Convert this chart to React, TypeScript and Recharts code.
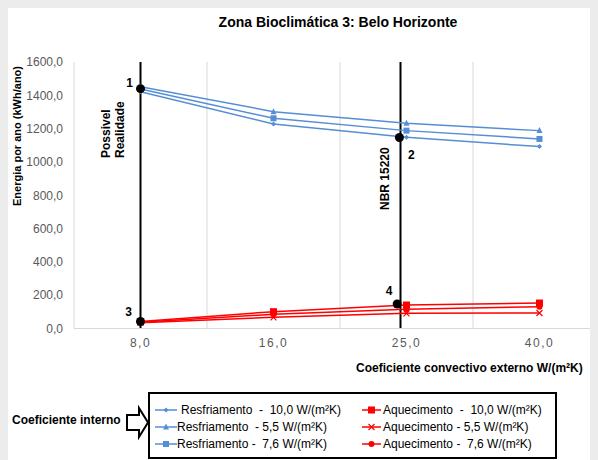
import React from 'react';
import { LineChart, Line, XAxis, YAxis, ReferenceLine, ReferenceDot } from 'recharts';

// Coeficiente convectivo externo W/(m²K)
const categories = ['8,0', '16,0', '25,0', '40,0'];

// Energia por ano (kWh/ano) — Resfriamento
const resfriamento10 = [1422, 1228, 1148, 1092];
const resfriamento55 = [1452, 1302, 1232, 1188];
const resfriamento76 = [1438, 1262, 1188, 1138];

// Energia por ano (kWh/ano) — Aquecimento
const aquecimento10 = [42, 101, 141, 153];
const aquecimento55 = [35, 67, 91, 93];
const aquecimento76 = [38, 85, 115, 131];

const yTicks = [0, 200, 400, 600, 800, 1000, 1200, 1400, 1600];

// Highlighted points (x in category index units)
const markerPoints = [
  { x: 0, y: 1440, label: '1' },
  { x: 1.947, y: 1147, label: '2' },
  { x: 0, y: 42, label: '3' },
  { x: 1.93, y: 147, label: '4' },
];

// Vertical guide lines
const guideLines = [
  { x: 0, text: ['Possivel', 'Realidade'] },
  { x: 1.955, text: ['NBR 15220'] },
];

const BLUE = '#558ED5';
const RED = '#FF0000';
const FONT = 'Arial, "Liberation Sans", sans-serif';

type Shape = 'diamond' | 'triangle' | 'square' | 'cross' | 'circle';

const series: { key: string; values: number[]; color: string; shape: Shape; legend: string }[] = [
  { key: 'r10', values: resfriamento10, color: BLUE, shape: 'diamond', legend: 'Resfriamento  -  10,0 W/(m²K)' },
  { key: 'r55', values: resfriamento55, color: BLUE, shape: 'triangle', legend: 'Resfriamento  - 5,5 W/(m²K)' },
  { key: 'r76', values: resfriamento76, color: BLUE, shape: 'square', legend: 'Resfriamento -  7,6 W/(m²K)' },
  { key: 'a10', values: aquecimento10, color: RED, shape: 'square', legend: 'Aquecimento  -  10,0 W/(m²K)' },
  { key: 'a55', values: aquecimento55, color: RED, shape: 'cross', legend: 'Aquecimento - 5,5 W/(m²K)' },
  { key: 'a76', values: aquecimento76, color: RED, shape: 'circle', legend: 'Aquecimento -  7,6 W/(m²K)' },
];

const data = categories.map((_, i) => {
  const row: Record<string, number> = { x: i };
  series.forEach((s) => {
    row[s.key] = s.values[i];
  });
  return row;
});

function marker(shape: Shape, cx: number, cy: number, color: string, size: number, key?: string) {
  const h = size / 2;
  switch (shape) {
    case 'diamond':
      return <path key={key} d={`M${cx},${cy - h} L${cx + h},${cy} L${cx},${cy + h} L${cx - h},${cy} Z`} fill={color} />;
    case 'triangle':
      return <path key={key} d={`M${cx},${cy - h - 0.5} L${cx + h},${cy + h - 0.5} L${cx - h},${cy + h - 0.5} Z`} fill={color} />;
    case 'square':
      return <rect key={key} x={cx - h} y={cy - h} width={size} height={size} fill={color} />;
    case 'cross':
      return (
        <path
          key={key}
          d={`M${cx - h},${cy - h} L${cx + h},${cy + h} M${cx - h},${cy + h} L${cx + h},${cy - h}`}
          stroke={color}
          strokeWidth={1.2}
          fill="none"
        />
      );
    default:
      return <circle key={key} cx={cx} cy={cy} r={h} fill={color} />;
  }
}

const markerSize: Record<string, number> = { r10: 5, r55: 6, r76: 6, a10: 7, a55: 6, a76: 6 };

const labelOffset: Record<string, [number, number]> = {
  '1': [-11, -6],
  '2': [12, 18],
  '3': [-12, -10],
  '4': [-8, -13],
};

const fmt = (v: number) => v.toFixed(1).replace('.', ',');

export default function App() {
  const W = 590;
  const H = 452;
  return (
    <div style={{ position: 'relative', width: W, height: H, background: '#ffffff', fontFamily: FONT }}>
      <style>{'body{background:#ececec}'}</style>
      <LineChart width={W} height={H} data={data} margin={{ top: 54, right: 0, bottom: 101.5, left: 0 }}>
        <XAxis
          dataKey="x"
          type="number"
          domain={[-0.5, 3.44]}
          allowDataOverflow
          ticks={[0, 1, 2, 3]}
          tickFormatter={(i: number) => categories[i] ?? ''}
          height={30}
          tickLine={false}
          tickMargin={4}
          axisLine={{ stroke: '#d9d9d9' }}
          tick={{ fill: '#595959', fontSize: 12, fontFamily: FONT, letterSpacing: 1.5 }}
        />
        <YAxis
          type="number"
          domain={[0, 1600]}
          ticks={yTicks}
          width={66}
          tickLine={false}
          tickMargin={5}
          tickFormatter={fmt}
          axisLine={{ stroke: '#d9d9d9' }}
          tick={{ fill: '#595959', fontSize: 12, fontFamily: FONT }}
        />
        {[0.5, 1.5, 2.5].map((g) => (
          <ReferenceLine key={`g${g}`} x={g} stroke="#d9d9d9" strokeWidth={1} />
        ))}
        {guideLines.map((gl) => (
          <ReferenceLine
            key={`l${gl.x}`}
            x={gl.x}
            stroke="#000000"
            strokeWidth={2}
            label={(p: any) => {
              const vb = p.viewBox || {};
              const lx = vb.x;
              const n = gl.text.length;
              const baseY = n === 2 ? 150 : 202;
              return (
                <g>
                  {gl.text.map((t, k) => {
                    const tx = lx + (n === 2 ? -34 + k * 13.5 : -16);
                    return (
                      <text
                        key={t}
                        x={tx}
                        y={baseY}
                        transform={`rotate(-90, ${tx}, ${baseY})`}
                        fontSize={12}
                        fontWeight="bold"
                        fontFamily={FONT}
                        fill="#000"
                        dominantBaseline="central"
                      >
                        {t}
                      </text>
                    );
                  })}
                </g>
              );
            }}
          />
        ))}
        {series.map((s) => (
          <Line
            key={s.key}
            dataKey={s.key}
            stroke={s.color}
            strokeWidth={1.5}
            isAnimationActive={false}
            activeDot={false}
            dot={(p: any) => marker(s.shape, p.cx, p.cy, s.color, markerSize[s.key], `${s.key}-${p.index}`)}
          />
        ))}
        {markerPoints.map((m) => (
          <ReferenceDot
            key={m.label}
            x={m.x}
            y={m.y}
            r={4.5}
            fill="#000"
            stroke="none"
            label={(p: any) => {
              const vb = p.viewBox || {};
              const cx = vb.x + (vb.width || 0) / 2;
              const cy = vb.y + (vb.height || 0) / 2;
              const [dx, dy] = labelOffset[m.label];
              return (
                <text
                  x={cx + dx}
                  y={cy + dy}
                  textAnchor="middle"
                  dominantBaseline="central"
                  fontSize={12}
                  fontWeight="bold"
                  fontFamily={FONT}
                  fill="#000"
                >
                  {m.label}
                </text>
              );
            }}
          />
        ))}
      </LineChart>
      <svg
        width={W}
        height={H}
        style={{ position: 'absolute', left: 0, top: 0, pointerEvents: 'none' }}
        fontFamily={FONT}
      >
        <text x={330} y={14} textAnchor="middle" dominantBaseline="central" fontSize={14} fontWeight="bold" fill="#000">
          Zona Bioclimática 3: Belo Horizonte
        </text>
        <text
          x={9}
          y={128}
          transform="rotate(-90, 9, 128)"
          textAnchor="middle"
          dominantBaseline="central"
          fontSize={11}
          fontWeight="bold"
          fill="#000"
        >
          Energia por ano (kWh/ano)
        </text>
        <text x={348} y={360} dominantBaseline="central" fontSize={12} fontWeight="bold" fill="#000">
          Coeficiente convectivo externo W/(m²K)
        </text>
        <text x={4} y={412} dominantBaseline="central" fontSize={12} fontWeight="bold" fill="#000">
          Coeficiente interno
        </text>
        <path
          d="M119,407 L131,407 L131,400 L140,414.5 L131,429 L131,422 L119,422 Z"
          fill="#fff"
          stroke="#000"
          strokeWidth={2}
          strokeLinejoin="miter"
        />
        <rect x={141} y={385} width={407} height={65} fill="#fff" stroke="#000" strokeWidth={2} />
        {series.map((s, i) => {
          const col = i < 3 ? 0 : 1;
          const row = i % 3;
          const cy = 402 + row * 17;
          const x0 = col === 0 ? 147 : 354;
          const x1 = col === 0 ? 169 : 373;
          const tx = col === 0 ? (row === 0 ? 173 : 169) : 375;
          return (
            <g key={`lg${s.key}`}>
              <line x1={x0} y1={cy} x2={x1} y2={cy} stroke={s.color} strokeWidth={1.5} />
              {marker(s.shape, (x0 + x1) / 2, cy, s.color, markerSize[s.key])}
              <text x={tx} y={cy} dominantBaseline="central" fontSize={12} fill="#000" style={{ whiteSpace: 'pre' }}>
                {s.legend}
              </text>
            </g>
          );
        })}
      </svg>
    </div>
  );
}
